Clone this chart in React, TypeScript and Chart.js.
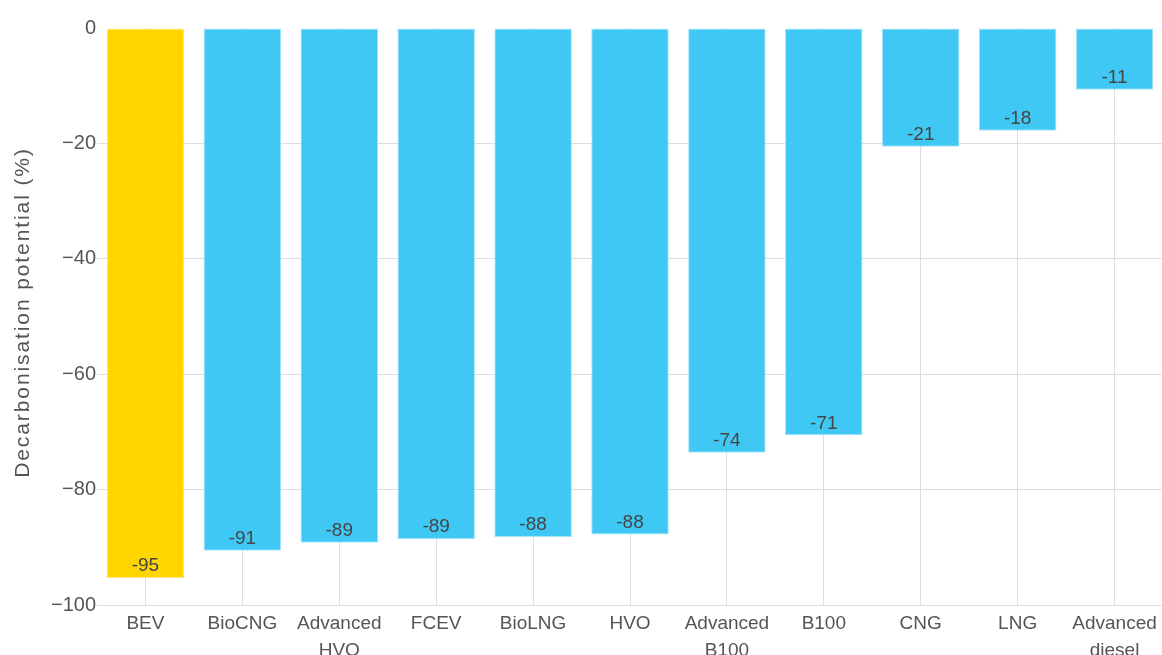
import React, { useEffect, useRef } from "react";
import { Chart, registerables } from "chart.js";

Chart.register(...registerables);

// Powertrain / fuel options
const categories: (string | string[])[] = [
  "BEV",
  "BioCNG",
  ["Advanced", "HVO"],
  "FCEV",
  "BioLNG",
  "HVO",
  ["Advanced", "B100"],
  "B100",
  "CNG",
  "LNG",
  ["Advanced", "diesel"],
];

// Decarbonisation potential relative to diesel (%)
const potential = [-95.3, -90.6, -89.2, -88.6, -88.2, -87.8, -73.6, -70.6, -20.6, -17.8, -10.7];

const yTicks = [0, -20, -40, -60, -80, -100];

const yTitle = "Decarbonisation potential (%)";

const highlightColor = "#FFD500";
const highlightBorder = "#FFE680";
const barColor = "#40C8F4";
const barBorder = "#A6E3F8";

const FONT = "'Liberation Sans', Arial, Helvetica, sans-serif";

// Value printed just inside the end of each bar
const valueLabels = {
  id: "valueLabels",
  afterDatasetsDraw(chart: any) {
    const ctx = chart.ctx;
    const meta = chart.getDatasetMeta(0);
    ctx.save();
    ctx.font = `19px ${FONT}`;
    ctx.fillStyle = "#454545";
    ctx.textAlign = "center";
    ctx.textBaseline = "middle";
    meta.data.forEach((bar: any, i: number) => {
      const v = chart.data.datasets[0].data[i] as number;
      ctx.fillText(String(Math.round(v)), bar.x, bar.y - 12);
    });
    ctx.restore();
  },
};

// Rotated, letter-spaced y-axis title
const axisTitle = {
  id: "axisTitle",
  afterDraw(chart: any) {
    const ctx = chart.ctx;
    const area = chart.chartArea;
    ctx.save();
    ctx.translate(23, (area.top + area.bottom) / 2 - 4);
    ctx.rotate(-Math.PI / 2);
    ctx.font = `21px ${FONT}`;
    (ctx as any).letterSpacing = "1.9px";
    ctx.fillStyle = "#555555";
    ctx.textAlign = "center";
    ctx.textBaseline = "middle";
    ctx.fillText(yTitle, 0, 0);
    (ctx as any).letterSpacing = "0px";
    ctx.restore();
  },
};

export default function App() {
  const canvasRef = useRef<HTMLCanvasElement | null>(null);

  useEffect(() => {
    if (!canvasRef.current) return;
    const chart = new Chart(canvasRef.current, {
      type: "bar",
      data: {
        labels: categories,
        datasets: [
          {
            data: potential,
            backgroundColor: potential.map((_, i) => (i === 0 ? highlightColor : barColor)),
            borderColor: potential.map((_, i) => (i === 0 ? highlightBorder : barBorder)),
            borderWidth: 1,
            borderSkipped: false,
            categoryPercentage: 0.8,
            barPercentage: 1,
          },
        ],
      },
      plugins: [valueLabels, axisTitle],
      options: {
        animation: false,
        responsive: true,
        maintainAspectRatio: false,
        layout: { padding: { top: 28, right: 0, bottom: 0, left: 0 } },
        plugins: {
          legend: { display: false },
          tooltip: { enabled: false },
        },
        scales: {
          x: {
            grid: {
              offset: false,
              color: "#DDDDDD",
              drawTicks: false,
            },
            border: { display: true, color: "#DDDDDD" },
            ticks: {
              color: "#555555",
              font: { family: FONT, size: 19, lineHeight: 1.38 },
              padding: 6,
              maxRotation: 0,
              autoSkip: false,
            },
            afterFit(scale: any) {
              scale.height = 95;
            },
          },
          y: {
            min: -100,
            max: 0,
            afterBuildTicks(scale: any) {
              scale.ticks = yTicks.map((v) => ({ value: v }));
            },
            grid: {
              color: (c: any) => (c.tick && c.tick.value === 0 ? "rgba(0,0,0,0)" : "#DDDDDD"),
              drawTicks: false,
            },
            border: { display: false },
            ticks: {
              color: "#555555",
              font: { family: FONT, size: 20 },
              padding: 1,
              callback: (v: any) => (Number(v) < 0 ? "\u2212" + Math.abs(Number(v)) : String(v)),
            },
            afterFit(scale: any) {
              scale.width = 97;
            },
          },
        },
      },
    });
    return () => chart.destroy();
  }, []);

  return (
    <div style={{ position: "fixed", left: 0, top: 0, width: 1162, height: 655, overflow: "hidden", background: "#fff" }}>
      <div style={{ position: "relative", width: 1163, height: 700 }}>
        <canvas ref={canvasRef} />
      </div>
    </div>
  );
}
